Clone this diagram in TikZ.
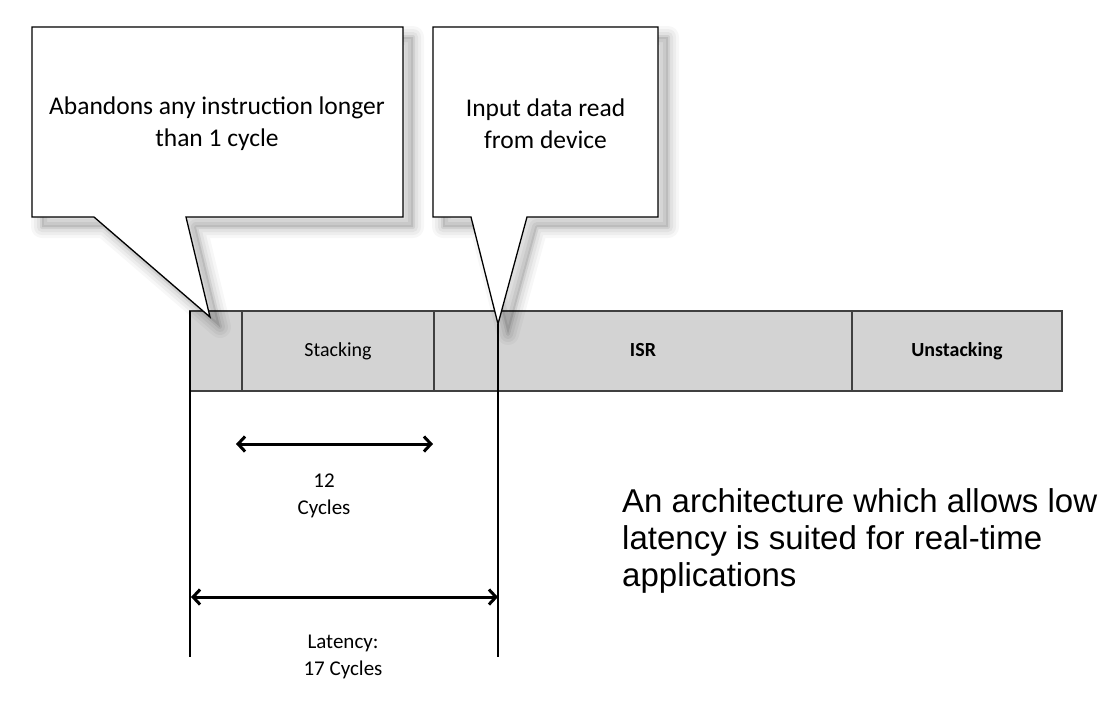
\documentclass[tikz,border=0pt]{standalone}
\usepackage{fontspec}
\setmainfont{Carlito}
\newfontfamily\arialfont{Liberation Sans}
\usetikzlibrary{arrows.meta}
\usetikzlibrary{positioning}
\definecolor{barfill}{RGB}{211,211,211}
\definecolor{bardraw}{RGB}{64,64,64}

\begin{document}
\begin{tikzpicture}[
x=1pt, y=-1pt,
seg/.style={rectangle, draw=bardraw, fill=barfill, line width=1.2pt, minimum height=80pt, inner sep=0pt, outer sep=0pt, text height=14pt, text depth=4pt, font=\fontsize{20}{24}\selectfont},
segb/.style={seg, font=\fontsize{20}{24}\selectfont\bfseries},
blur/.style={preaction={draw=black, draw opacity=#1, line join=round, transform canvas={xshift=10pt, yshift=-10pt}}},
note/.style={draw=black, fill=white, line width=1.3pt,
  preaction={fill=black, fill opacity=.10, transform canvas={xshift=10pt, yshift=-10pt}},
  blur={.07, line width=4pt}, blur={.05, line width=10pt}, blur={.04, line width=16pt}, blur={.03, line width=22pt}},
notetext/.style={align=center, font=\fontsize{25.5}{32}\selectfont},
marker/.style={line width=2.5pt},
span/.style={<->, >={Straight Barb[length=7pt,width=15pt]}, line width=3pt},
lbl/.style={align=center, font=\fontsize{21}{27}\selectfont},
]
\useasboundingbox (0,0) rectangle (1118,702);
\node[seg, minimum width=52pt, anchor=north west](s1) at (190,311){};
\node[seg, minimum width=192pt, right=0pt of s1](s2){Stacking};
\node[segb, minimum width=418pt, right=0pt of s2](s3){ISR};
\node[segb, minimum width=210pt, right=0pt of s3](s4){Unstacking};
\coordinate (t1) at (210,317);
\coordinate (t2) at (498,324);
\draw[note] (32,27) -- (403,27) -- (403,217) -- (186,217) -- (t1) -- (94,217) -- (32,217) -- cycle;
\draw[note] (433,27) -- (658,27) -- (658,217) -- (527,217) -- (t2) -- (471,217) -- (433,217) -- cycle;
\node[notetext](n1) at (217,124){Abandons any instruction longer\\than 1 cycle};
\node[notetext](n2) at (545.5,124){Input data read\\from device};
\coordinate (e1) at (190,657);
\coordinate (e2) at (498,657);
\draw[marker] (s1.north west) -- (e1);
\draw[marker] (t2) -- (e2);
\coordinate (k1) at (236,444);
\coordinate (k2) at (433,444);
\draw[span] (k1) -- (k2);
\node[lbl](c12) at (324,496){12\\Cycles};
\coordinate (m1) at (191,597);
\coordinate (m2) at (498,597);
\draw[span] (m1) -- (m2);
\node[lbl](lat) at (343,657){Latency:\\17 Cycles};
\node[align=left, anchor=west, inner sep=0pt, font=\arialfont\fontsize{33}{37}\selectfont](app) at (622,541){An architecture which allows low\\latency is suited for real-time\\applications};
\end{tikzpicture}
\end{document}
